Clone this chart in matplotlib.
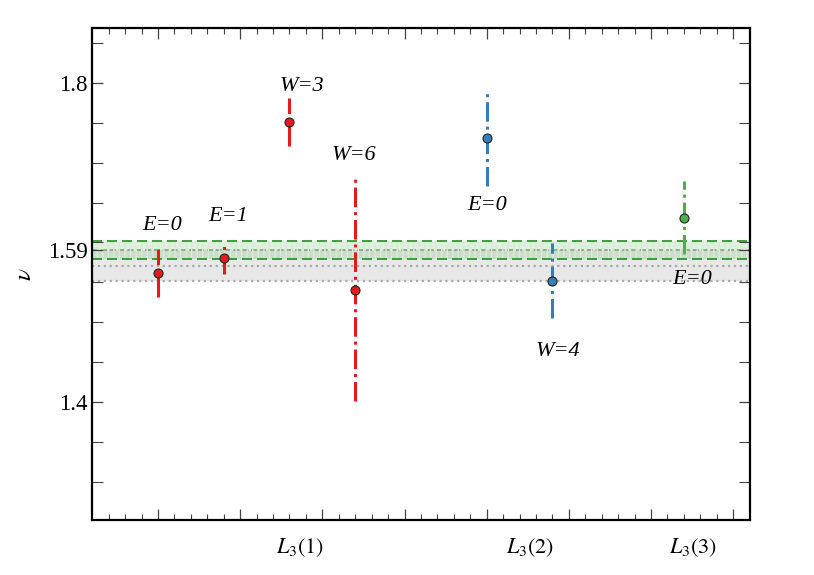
import matplotlib
matplotlib.use('Agg')
import matplotlib.pyplot as plt
from matplotlib.ticker import FixedLocator
import numpy as np

plt.rcParams['font.family'] = ['Liberation Serif', 'DejaVu Serif']
plt.rcParams['mathtext.fontset'] = 'stix'

# data: position index, nu value, error
x_red = [1, 2, 3, 4]
nu_red = [1.562, 1.581, 1.751, 1.541]
err_red = [0.030, 0.020, 0.030, 0.140]
lab_red = ['E=0', 'E=1', 'W=3', 'W=6']

x_blue = [6, 7]
nu_blue = [1.731, 1.552]
err_blue = [0.060, 0.047]
lab_blue = ['E=0', 'W=4']

x_green = [9]
nu_green = [1.631]
err_green = [0.046]
lab_green = ['E=0']

green_band = [1.5797, 1.6023]
gray_band = [1.552, 1.590]
gray_dotted = [1.571, 1.552]
gray_center = 1.590

group_labels = [r'$L_3(1)$', r'$L_3(2)$', r'$L_3(3)$']
group_pos = [3.16, 6.66, 9.14]

fig = plt.figure(figsize=(8.14, 5.75), dpi=100)
ax = fig.add_axes([0.1134, 0.0957, 0.8075, 0.8556])
ax.set_xlim(0, 10)
ax.set_ylim(1.252, 1.869)

# bands
ax.axhspan(gray_band[0], gray_band[1], color='#e8e8e8', lw=0, zorder=0)
for yv in gray_dotted:
    ax.axhline(yv, color='#aaaaaa', ls=':', lw=1.6, zorder=1)
ax.axhline(gray_center, color='#999999', ls='--', lw=1.2, zorder=1)
ax.axhspan(green_band[0], green_band[1], facecolor='#4daf4a', alpha=0.18, lw=0, zorder=1)
ax.axhspan(green_band[0], green_band[1], facecolor='none', edgecolor='#d8ecd6',
           hatch='|||', lw=0, zorder=1)
for yv in green_band:
    ax.axhline(yv, color='#1f8f1f', ls=(0, (6, 3)), lw=1.2, zorder=2)

series = [
    (x_red, nu_red, err_red, lab_red, '#e41a1c'),
    (x_blue, nu_blue, err_blue, lab_blue, '#377eb8'),
    (x_green, nu_green, err_green, lab_green, '#4daf4a'),
]
for xs, ys, es, labs, col in series:
    ys = np.array(ys)
    es = np.array(es)
    ax.vlines(xs, ys - es, ys + es, colors=col, linestyles='-.', lw=2.2, zorder=3)
    ax.plot(xs, ys, 'o', ms=6.5, mfc=col, mec='#222222', mew=0.8, zorder=4)

# point labels
label_pos = {
    ('E=0', 1): (1.06, 1.621), ('E=1', 2): (2.07, 1.633),
    ('W=3', 3): (3.19, 1.796), ('W=6', 4): (3.98, 1.709),
    ('E=0', 6): (6.0, 1.647), ('W=4', 7): (7.09, 1.463),
    ('E=0', 9): (9.13, 1.553),
}
for xs, ys, es, labs, col in series:
    for xv, lab in zip(xs, labs):
        px, py = label_pos[(lab, xv)]
        ax.text(px, py, lab, fontsize=16, style='italic', ha='center', va='center')

# group labels below the axis
for pos, lab in zip(group_pos, group_labels):
    ax.text(pos, -0.057, lab, fontsize=16, ha='center', va='center',
            transform=ax.get_xaxis_transform())

# ticks
ax.xaxis.set_major_locator(FixedLocator(np.arange(1, 10, 1.25)))
ax.xaxis.set_minor_locator(FixedLocator(np.arange(0.25, 10, 0.25)))
ax.set_xticklabels([])
ax.set_yticks([1.4, 1.59, 1.8])
ax.set_yticklabels(['1.4', '1.59', '1.8'], fontsize=16.5)
ax.yaxis.set_minor_locator(FixedLocator(np.arange(1.30, 1.87, 0.05)))
ax.tick_params(which='both', direction='in', top=True, right=True, color='#444444')
ax.tick_params(which='major', length=8, width=0.9)
ax.tick_params(axis='x', which='minor', length=4, width=0.8)
ax.tick_params(axis='y', which='minor', length=8, width=0.8)
for s in ax.spines.values():
    s.set_linewidth(1.6)

ax.set_ylabel(r'$\nu$', fontsize=18, labelpad=8)

fig.savefig('out.png', dpi=100)
